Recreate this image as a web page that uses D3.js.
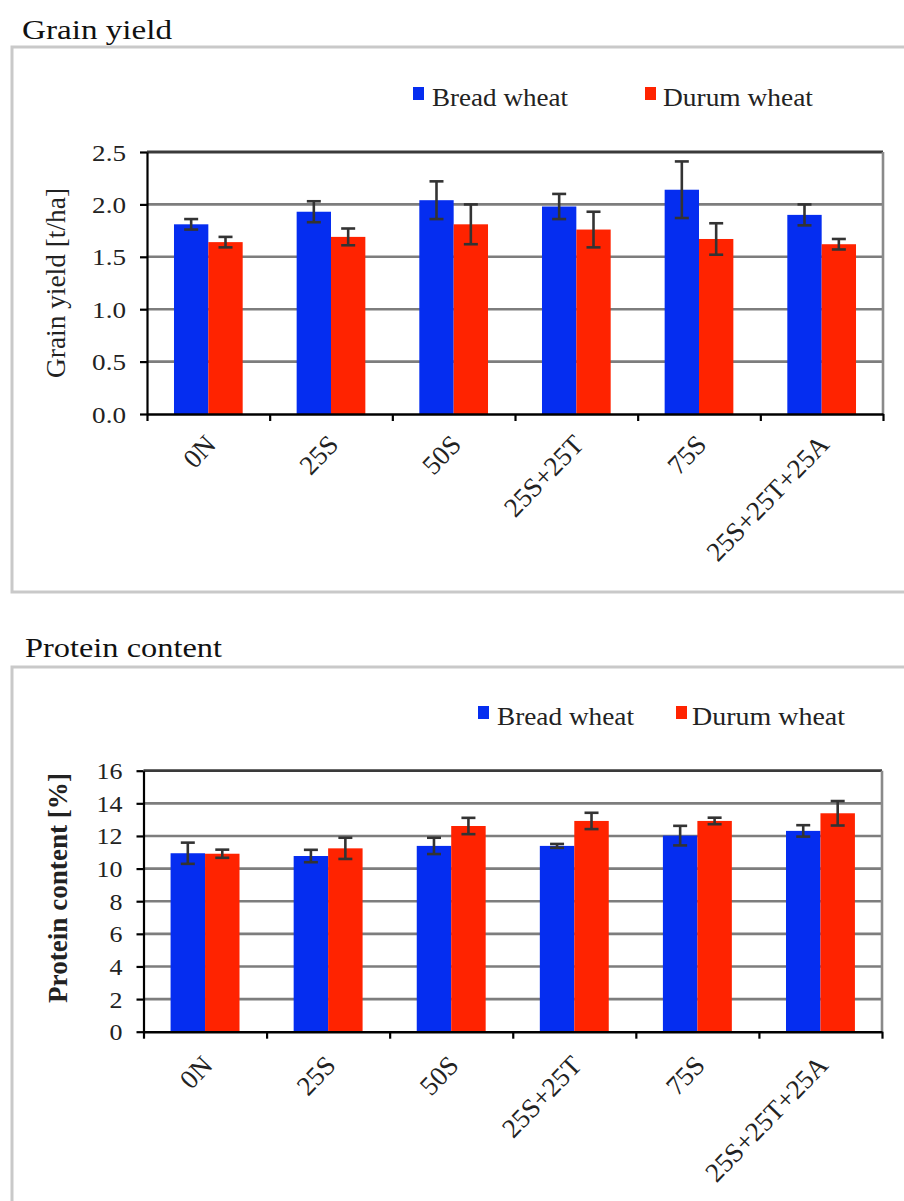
<!DOCTYPE html>
<html><head><meta charset="utf-8">
<script src="https://cdn.jsdelivr.net/npm/d3@7"></script>
<style>body{margin:0;background:#fff} svg{display:block}</style>
</head><body>
<svg id="c" width="904" height="1201"></svg>
<script>
const categories = ["0N","25S","50S","25S+25T","75S","25S+25T+25A"];
const seriesNames = ["Bread wheat","Durum wheat"];
const seriesColors = ["#052df0","#ff2300"];
const yieldBread = [1.81,1.93,2.04,1.98,2.14,1.90];
const yieldBreadErr = [0.05,0.10,0.18,0.12,0.27,0.10];
const yieldDurum = [1.64,1.69,1.81,1.76,1.67,1.62];
const yieldDurumErr = [0.05,0.08,0.19,0.17,0.15,0.05];
const proteinBread = [10.94,10.77,11.39,11.39,12.02,12.31];
const proteinBreadErr = [0.65,0.38,0.5,0.12,0.6,0.35];
const proteinDurum = [10.91,11.24,12.61,12.92,12.92,13.39];
const proteinDurumErr = [0.25,0.65,0.5,0.5,0.2,0.75];
const yieldTicks = [0,0.5,1,1.5,2,2.5];
const proteinTicks = [0,2,4,6,8,10,12,14,16];

const svg = d3.select("#c");
const SERIF = "'Liberation Serif','Times New Roman',serif";
const SX = 1.13;

function drawPanel(cfg){
  const g = svg.append("g");
  g.append("rect").attr("x",cfg.frame[0]).attr("y",cfg.frame[1])
    .attr("width",cfg.frame[2]).attr("height",cfg.frame[3])
    .attr("fill","#fff").attr("stroke","#c9c9c9").attr("stroke-width",3);
  g.append("text").attr("x",cfg.title[1]).attr("y",cfg.title[2])
    .attr("font-family",SERIF).attr("font-size",27).attr("fill","#111")
    .attr("textLength",cfg.title[3]).attr("lengthAdjust","spacingAndGlyphs")
    .text(cfg.title[0]);

  const [L,R,T,B] = cfg.plot;
  const x = d3.scaleBand().domain(categories).range([L,R]).padding(0);
  const xb = d3.scaleLinear().domain([0,categories.length]).range([L,R]);
  const y = d3.scaleLinear().domain(cfg.domain).range([B,T]);
  const bw = x.bandwidth()*0.28;

  g.append("g").selectAll("line").data(cfg.ticks.filter(d=>d>cfg.domain[0] && d<cfg.domain[1]))
    .join("line").attr("x1",L).attr("x2",R).attr("y1",d=>y(d)).attr("y2",d=>y(d))
    .attr("stroke","#7d7d7d").attr("stroke-width",2.6);
  g.append("line").attr("x1",L).attr("x2",R).attr("y1",y(cfg.domain[1])).attr("y2",y(cfg.domain[1]))
    .attr("stroke","#3a3a3a").attr("stroke-width",2.8);
  g.append("line").attr("x1",R).attr("x2",R).attr("y1",T).attr("y2",B)
    .attr("stroke","#8a8a8a").attr("stroke-width",2.6);

  const series = [cfg.s1, cfg.s2];
  series.forEach((s,si)=>{
    const data = categories.map((c,i)=>({c, v:s.v[i], e:s.e[i]}));
    const off = si===0 ? -bw : 0;
    g.append("g").selectAll("rect").data(data).join("rect")
      .attr("x",d=>x(d.c)+x.bandwidth()/2+off).attr("width",bw)
      .attr("y",d=>y(d.v)).attr("height",d=>y(cfg.domain[0])-y(d.v))
      .attr("fill",seriesColors[si]);
    const eg = g.append("g").attr("stroke","#333").attr("stroke-width",2.6);
    const cx = d=>x(d.c)+x.bandwidth()/2+off+bw/2;
    eg.selectAll("line.v").data(data).join("line").attr("class","v")
      .attr("x1",cx).attr("x2",cx).attr("y1",d=>y(d.v-d.e)).attr("y2",d=>y(d.v+d.e));
    eg.selectAll("line.t").data(data).join("line").attr("class","t")
      .attr("x1",d=>cx(d)-7).attr("x2",d=>cx(d)+7).attr("y1",d=>y(d.v+d.e)).attr("y2",d=>y(d.v+d.e));
    eg.selectAll("line.b").data(data).join("line").attr("class","b")
      .attr("x1",d=>cx(d)-7).attr("x2",d=>cx(d)+7).attr("y1",d=>y(d.v-d.e)).attr("y2",d=>y(d.v-d.e));
  });

  const ya = g.append("g").attr("transform",`translate(${L},0)`)
    .call(d3.axisLeft(y).tickValues(cfg.ticks).tickSize(7).tickSizeOuter(0).tickFormat(cfg.fmt));
  ya.select(".domain").attr("stroke","#000").attr("stroke-width",2.2);
  ya.selectAll(".tick line").attr("stroke","#000").attr("stroke-width",2.2);
  ya.selectAll(".tick text").attr("x",0).attr("dy",null)
    .attr("transform",`translate(-21,${cfg.tickDy}) scale(${SX},1)`)
    .attr("font-family",SERIF).attr("font-size",cfg.tickFont).attr("fill","#222");

  const xa = g.append("g").attr("transform",`translate(0,${B})`)
    .call(d3.axisBottom(xb).tickValues(d3.range(categories.length+1)).tickSize(7).tickSizeOuter(0).tickFormat(""));
  xa.select(".domain").attr("stroke","#000").attr("stroke-width",2.6);
  xa.selectAll(".tick line").attr("stroke","#000").attr("stroke-width",2.2);
  g.append("g").selectAll("text").data(categories).join("text")
    .attr("transform",d=>`translate(${x(d)+x.bandwidth()/2+9},${B+cfg.labelDy}) rotate(-46)`)
    .attr("text-anchor","end").attr("font-family",SERIF).attr("font-size",27).attr("fill","#222")
    .text(d=>d);

  g.append("text")
    .attr("transform",`translate(${cfg.ytitle[1]},${cfg.ytitle[2]}) scale(${SX},1) rotate(-90)`)
    .attr("text-anchor","middle").attr("font-family",SERIF).attr("font-size",cfg.ytitle[4])
    .attr("font-weight",cfg.ytitle[5]).attr("fill","#222")
    .attr("textLength",cfg.ytitle[3]).attr("lengthAdjust","spacingAndGlyphs")
    .text(cfg.ytitle[0]);

  const lg = g.append("g");
  seriesNames.forEach((n,i)=>{
    const lx = cfg.legend[i][0], ly = cfg.legend[i][1];
    lg.append("rect").attr("x",lx).attr("y",ly-19).attr("width",11).attr("height",13).attr("fill",seriesColors[i]);
    lg.append("text").attr("x",lx+cfg.legend[i][2]).attr("y",ly)
      .attr("font-family",SERIF).attr("font-size",25).attr("fill","#222")
      .attr("textLength",cfg.legend[i][3]).attr("lengthAdjust","spacingAndGlyphs").text(n);
  });
}

drawPanel({
  frame:[12,47,900,545],
  title:["Grain yield",22,39,150],
  plot:[147,883,152,414],
  domain:[0,2.5], ticks:yieldTicks, fmt:d3.format(".1f"), tickFont:24, tickDy:8,
  s1:{v:yieldBread,e:yieldBreadErr}, s2:{v:yieldDurum,e:yieldDurumErr},
  labelDy:32,
  ytitle:["Grain yield [t/ha]",65,283,190,25,"normal"],
  legend:[[413,106,19,136],[645,106,18,150]]
});
drawPanel({
  frame:[12,667,900,560],
  title:["Protein content",25,657,197],
  plot:[143.5,882,770.7,1031.7],
  domain:[0,16], ticks:proteinTicks, fmt:d3.format("d"), tickFont:23, tickDy:8,
  s1:{v:proteinBread,e:proteinBreadErr}, s2:{v:proteinDurum,e:proteinDurumErr},
  labelDy:35,
  ytitle:["Protein content [%]",67,888,230,24,"bold"],
  legend:[[478,725,19,137],[676,725,16,153]]
});
</script>
</body></html>
